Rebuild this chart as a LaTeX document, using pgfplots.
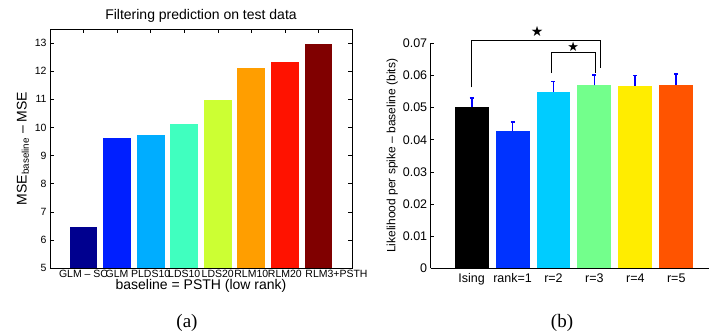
\documentclass[border=0pt]{standalone}
\usepackage{fontspec}
\setmainfont{Liberation Sans}
\newfontfamily\serifa{Liberation Serif}
\newfontfamily\dejavu{DejaVu Sans}
\usepackage{pgfplots}
\pgfplotsset{compat=1.18}
\definecolor{c1}{rgb}{0,0,0.56}
\definecolor{c2}{rgb}{0,0.12,1}
\definecolor{c3}{rgb}{0,0.68,1}
\definecolor{c4}{rgb}{0.25,1,0.75}
\definecolor{c5}{rgb}{0.8,1,0.2}
\definecolor{c6}{rgb}{1,0.62,0}
\definecolor{c7}{rgb}{1,0.07,0}
\definecolor{c8}{rgb}{0.5,0,0}
\definecolor{d1}{rgb}{0,0,0}
\definecolor{d2}{rgb}{0,0.2,1}
\definecolor{d3}{rgb}{0,0.8,1}
\definecolor{d4}{rgb}{0.45,1,0.55}
\definecolor{d5}{rgb}{1,0.93,0}
\definecolor{d6}{rgb}{1,0.33,0}
\begin{document}
\begin{tikzpicture}[x=1pt,y=1pt]
\useasboundingbox (0,0) rectangle (709,335);
% ---------- panel (a)
\begin{axis}[
  at={(50pt,67pt)}, anchor=south west,
  scale only axis, width=302pt, height=239pt,
  xmin=0, xmax=9, ymin=5, ymax=13.5,
  xtick={1,...,8},
  xticklabels={GLM -- SC,GLM,PLDS10,LDS10,LDS20,RLM10,RLM20,\makebox[0pt][l]{\hspace*{-13pt}RLM3+PSTH}},
  ytick={5,...,13},
  yticklabels={5,6,7,8,9,10,11,12,13},
  tick align=inside, major tick length=3.5pt,
  xtick pos=both, ytick pos=both,
  tick style={black, line width=0.5pt},
  axis line style={line width=0.8pt},
  ticklabel style={font=\fontsize{10.5}{11}\selectfont},
  xticklabel style={yshift=1pt},
  title={Filtering prediction on test data},
  title style={font=\fontsize{14}{15}\selectfont, yshift=-3pt},
  xlabel={baseline = PSTH (low rank)},
  xlabel style={font=\fontsize{14}{15}\selectfont, yshift=5pt},
  ylabel={MSE\textsubscript{baseline} -- MSE},
  ylabel style={font=\fontsize{14}{15}\selectfont, yshift=-1pt},
]
\addplot[ybar, bar width=0.83, bar shift=0pt, fill=c1, draw=none] coordinates {(1,6.45)};
\addplot[ybar, bar width=0.83, bar shift=0pt, fill=c2, draw=none] coordinates {(2,9.63)};
\addplot[ybar, bar width=0.83, bar shift=0pt, fill=c3, draw=none] coordinates {(3,9.74)};
\addplot[ybar, bar width=0.83, bar shift=0pt, fill=c4, draw=none] coordinates {(4,10.12)};
\addplot[ybar, bar width=0.83, bar shift=0pt, fill=c5, draw=none] coordinates {(5,10.98)};
\addplot[ybar, bar width=0.83, bar shift=0pt, fill=c6, draw=none] coordinates {(6,12.10)};
\addplot[ybar, bar width=0.83, bar shift=0pt, fill=c7, draw=none] coordinates {(7,12.33)};
\addplot[ybar, bar width=0.83, bar shift=0pt, fill=c8, draw=none] coordinates {(8,12.95)};
\end{axis}
% ---------- panel (b)
\begin{axis}[
  at={(430.7pt,66.7pt)}, anchor=south west,
  scale only axis, width=278.3pt, height=225pt,
  xmin=0, xmax=6.8, ymin=0, ymax=0.07,
  clip=false, scaled y ticks=false,
  axis x line*=bottom, axis y line*=left,
  axis line style={line width=0.8pt, -},
  xtick={1,...,6},
  xticklabels={Ising,rank=1,r=2,r=3,r=4,r=5},
  xtick style={draw=none},
  ytick={0,0.01,...,0.07},
  yticklabels={0,0.01,0.02,0.03,0.04,0.05,0.06,0.07},
  tick align=inside, major tick length=3.5pt,
  ytick style={black, line width=0.5pt},
  ticklabel style={font=\fontsize{12.5}{13}\selectfont},
  xticklabel style={yshift=-2pt},
  ylabel={Likelihood per spike -- baseline (bits)},
  ylabel style={font=\fontsize{12}{13}\selectfont, yshift=-2pt},
  error bars/y dir=plus, error bars/y explicit,
  error bars/error bar style={blue, line width=1.8pt},
  error bars/error mark options={blue, line width=1.8pt, mark size=2pt, rotate=90},
]
\addplot[ybar, bar width=0.83, bar shift=0pt, fill=d1, draw=none] coordinates {(1,0.0501) +- (0,0.0028)};
\addplot[ybar, bar width=0.83, bar shift=0pt, fill=d2, draw=none] coordinates {(2,0.0426) +- (0,0.0030)};
\addplot[ybar, bar width=0.83, bar shift=0pt, fill=d3, draw=none] coordinates {(3,0.0549) +- (0,0.0032)};
\addplot[ybar, bar width=0.83, bar shift=0pt, fill=d4, draw=none] coordinates {(4,0.0569) +- (0,0.0033)};
\addplot[ybar, bar width=0.83, bar shift=0pt, fill=d5, draw=none] coordinates {(5,0.0568) +- (0,0.0032)};
\addplot[ybar, bar width=0.83, bar shift=0pt, fill=d6, draw=none] coordinates {(6,0.0571) +- (0,0.0033)};
\addplot[black, line width=0.7pt, mark=none] coordinates {(1,0.0563) (1,0.0710) (4.15,0.0710) (4.15,0.0622)};
\addplot[black, line width=0.7pt, mark=none] coordinates {(2.95,0.0607) (2.95,0.0672) (4.02,0.0672) (4.02,0.0609)};
\node[font=\dejavu\fontsize{14}{14}\selectfont] at (axis cs:2.6,0.0736) {★};
\node[font=\dejavu\fontsize{13}{13}\selectfont] at (axis cs:3.48,0.0688) {★};
\end{axis}
\node[font=\serifa\fontsize{19}{20}\selectfont] at (187,12) {(a)};
\node[font=\serifa\fontsize{19}{20}\selectfont] at (562,12) {(b)};
\end{tikzpicture}
\end{document}
